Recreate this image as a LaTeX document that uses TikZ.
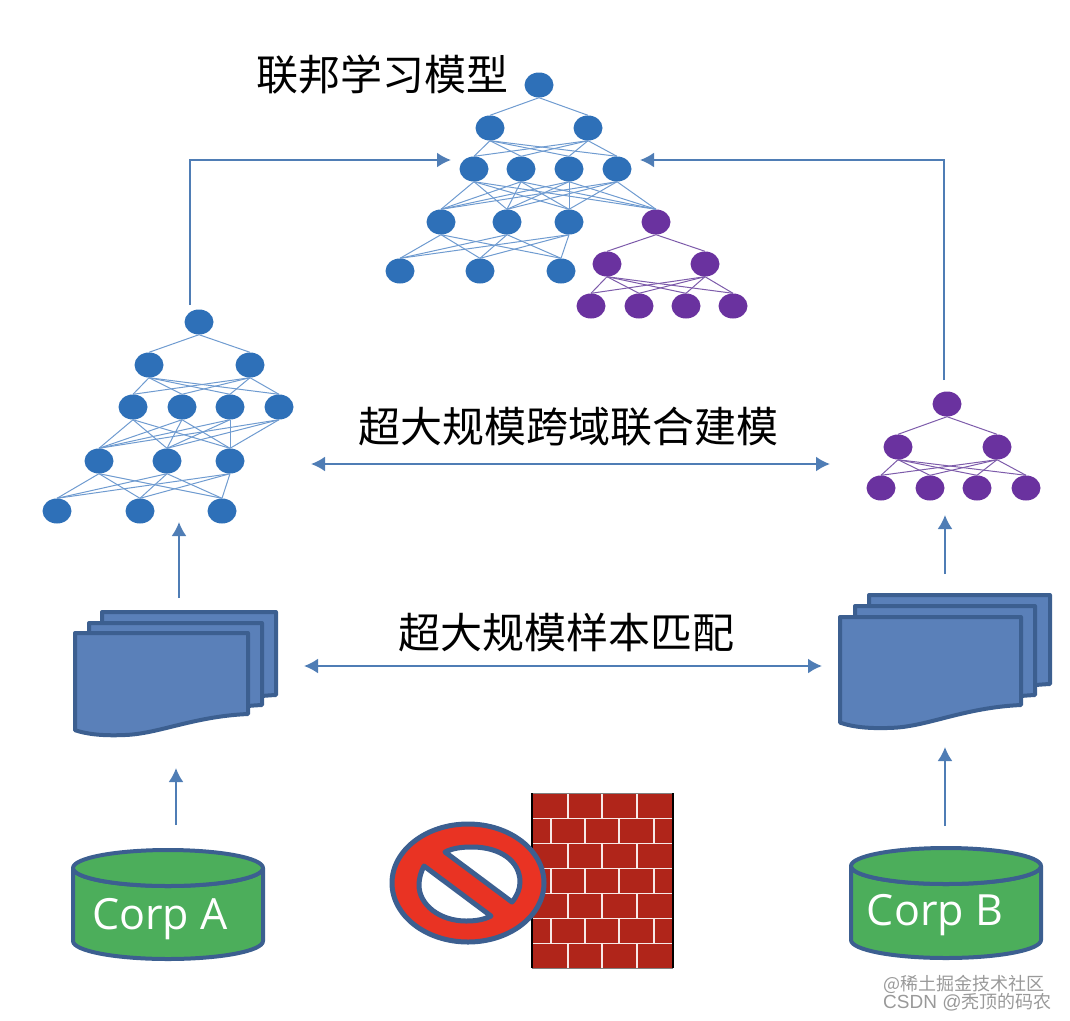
\documentclass[tikz,border=0pt]{standalone}
\usepackage{fontspec}
\setmainfont{Open Sans}
\newfontfamily\cjk{Noto Sans CJK SC}
\newfontfamily\wmfont{Liberation Sans}
\usetikzlibrary{shapes.geometric,arrows.meta}
\definecolor{netblue}{HTML}{2E70B8}
\definecolor{netpurple}{HTML}{6A329F}
\definecolor{edgeblue}{HTML}{6F9BD0}
\definecolor{edgepurple}{HTML}{7D5BAA}
\definecolor{arrowblue}{HTML}{4F7DB5}
\definecolor{sheetblue}{HTML}{5A80B9}
\definecolor{rimblue}{HTML}{3C5F90}
\definecolor{dbgreen}{HTML}{4CAE5B}
\definecolor{brickred}{HTML}{B0251A}
\definecolor{signred}{HTML}{E93323}
\tikzset{
  bluenet/.style={ellipse,fill=netblue,minimum width=29,minimum height=25,inner sep=0},
  purplenet/.style={ellipse,fill=netpurple,minimum width=29,minimum height=25,inner sep=0},
  blueedge/.style={edgeblue,line width=1},
  purpleedge/.style={edgepurple,line width=1},
  flow/.style={arrowblue,line width=2,-{Latex[length=14,width=15]}},
  flowboth/.style={arrowblue,line width=2,{Latex[length=14,width=15]}-{Latex[length=14,width=15]}},
  sheet/.style={draw=rimblue,fill=sheetblue,line width=4,line join=round},
  dbshape/.style={draw=rimblue,fill=dbgreen,line width=4,line join=round},
  title/.style={font=\cjk\fontsize{42}{42}\selectfont,inner sep=0},
  corp/.style={white,font=\fontsize{43}{43}\selectfont,inner sep=0},
  wmark/.style={gray!80,font=\cjk\fontsize{18}{18}\selectfont,inner sep=0,anchor=west}
}
\newcommand{\docsheet}[4]{
\draw [sheet] (#1,#2) -- (#1+#3,#2) -- (#1+#3,#2+#4)
  .. controls (#1+0.68*#3,#2+1.03*#4) and (#1+0.48*#3,#2+1.25*#4) .. (#1+0.28*#3,#2+1.26*#4)
  .. controls (#1+0.16*#3,#2+1.27*#4) and (#1+0.07*#3,#2+1.25*#4) .. (#1,#2+1.2*#4) -- cycle;
}
\newcommand{\corpdb}[5]{
\draw [dbshape] (#1-#3,#2) -- (#1-#3,#5) arc [start angle=180,end angle=0,x radius=#3,y radius=#4]
  -- (#1+#3,#2) arc [start angle=0,end angle=180,x radius=#3,y radius=#4] -- cycle;
\draw [dbshape] (#1,#2) ellipse [x radius=#3,y radius=#4];
}
\begin{document}
\begin{tikzpicture}[x=1pt,y=-1pt]
\useasboundingbox (0,0) rectangle (1070,1020);

% federated model
\foreach \name/\x/\y in {ta/539/85,tb/490/128,tc/588/128,td/474/169,te/521/169,tf/569/169,tg/617/169,
  th/441/222,ti/507/222,tj/569/222,tk/400/271,tl/480/271,tm/561/271}
  \node [bluenet] (\name) at (\x,\y) {};
\foreach \name/\x/\y in {pa/656/222,pb/607/264,pc/705/264,pd/591/306,pe/639/306,pf/686/306,pg/733/306}
  \node [purplenet] (\name) at (\x,\y) {};
\foreach \s in {tb,tc} \draw [blueedge] (ta.south) -- (\s.north);
\foreach \s in {tb,tc} \foreach \e in {td,te,tf,tg} \draw [blueedge] (\s.south) -- (\e.north);
\foreach \s in {td,te,tf,tg} \foreach \e in {th,ti,tj,pa} \draw [blueedge] (\s.south) -- (\e.north);
\foreach \s in {th,ti,tj} \foreach \e in {tk,tl,tm} \draw [blueedge] (\s.south) -- (\e.north);
\foreach \s in {pb,pc} \draw [purpleedge] (pa.south) -- (\s.north);
\foreach \s in {pb,pc} \foreach \e in {pd,pe,pf,pg} \draw [purpleedge] (\s.south) -- (\e.north);

% left model
\foreach \name/\x/\y in {la/199/322,lb/149/365,lc/250/365,ld/133/407,le/182/407,lf/230/407,lg/279/407,
  lh/99/461,li/167/461,lj/230/461,lk/57/511,ll/140/511,lm/222/511}
  \node [bluenet] (\name) at (\x,\y) {};
\foreach \s in {lb,lc} \draw [blueedge] (la.south) -- (\s.north);
\foreach \s in {lb,lc} \foreach \e in {ld,le,lf,lg} \draw [blueedge] (\s.south) -- (\e.north);
\foreach \s in {ld,le,lf,lg} \foreach \e in {lh,li,lj} \draw [blueedge] (\s.south) -- (\e.north);
\foreach \s in {lh,li,lj} \foreach \e in {lk,ll,lm} \draw [blueedge] (\s.south) -- (\e.north);

% right model
\foreach \name/\x/\y in {ra/947/404,rb/898/447,rc/997/447,rd/881/488,re/930/488,rf/977/488,rg/1026/488}
  \node [purplenet] (\name) at (\x,\y) {};
\foreach \s in {rb,rc} \draw [purpleedge] (ra.south) -- (\s.north);
\foreach \s in {rb,rc} \foreach \e in {rd,re,rf,rg} \draw [purpleedge] (\s.south) -- (\e.north);

% titles
\node [title] (fedtitle) at (382,75) {联邦学习模型};
\node [title] (modeltitle) at (568,427) {超大规模跨域联合建模};
\node [title] (sampletitle) at (566,632) {超大规模样本匹配};

% samples
\docsheet{102}{612}{174}{83}
\docsheet{89}{623}{173}{82}
\docsheet{75}{633}{173}{81}
\docsheet{869}{595}{181}{89}
\docsheet{855}{606}{180}{89}
\docsheet{840}{617}{181}{88}

% databases
\corpdb{168}{868}{95}{18}{941}
\corpdb{946}{866}{95}{18}{940}
\node [corp] (corpa) at (160,919) {Corp A};
\node [corp] (corpb) at (935,915) {Corp B};

% arrows
\coordinate (ua) at (190,305);
\coordinate (ub) at (451,160);
\coordinate (uc) at (944,380);
\coordinate (ud) at (640,160);
\coordinate (ue) at (311,464);
\coordinate (uf) at (830,464);
\coordinate (ug) at (304,666);
\coordinate (uh) at (822,666);
\coordinate (ui) at (179,598);
\coordinate (uj) at (179,522);
\coordinate (uk) at (945,574);
\coordinate (ul) at (945,515);
\coordinate (um) at (176,825);
\coordinate (un) at (176,768);
\coordinate (uo) at (945,826);
\coordinate (up) at (945,747);
\draw [flow] (ua) |- (ub);
\draw [flow] (uc) |- (ud);
\draw [flowboth] (ue) -- (uf);
\draw [flowboth] (ug) -- (uh);
\draw [flow] (ui) -- (uj);
\draw [flow] (uk) -- (ul);
\draw [flow] (um) -- (un);
\draw [flow] (uo) -- (up);

% wall
\fill [brickred] (532,793) rectangle (673,968);
\foreach \y in {818,843,868,893,918,943}
  \draw [white!90!brickred,line width=1] (532,\y) -- (673,\y);
\foreach \y in {793,843,893,943}
  \foreach \x in {568,602,637}
    \draw [white!90!brickred,line width=1.6] (\x,\y) -- (\x,\y+25);
\foreach \y in {818,868,918}
  \foreach \x in {551,585,619,654}
    \draw [white!90!brickred,line width=1.6] (\x,\y) -- (\x,\y+25);
\draw [gray,line width=1] (532,793) -- (673,793) (532,968) -- (673,968);
\draw [black,line width=2] (532,793) -- (532,968) (673,793) -- (673,968);

% forbidden sign
\draw [draw=rimblue,fill=signred,line width=5] (468,883) ellipse [x radius=76,y radius=59];
\draw [draw=rimblue,fill=white,line width=5,line join=round] (445,852)
  .. controls (453,848) and (462,847) .. (472,847) .. controls (500,847) and (520,861) .. (520,882)
  .. controls (520,889) and (517,896) .. (512,902) -- cycle;
\draw [draw=rimblue,fill=white,line width=5,line join=round] (424,866)
  .. controls (421,872) and (419,878) .. (419,885) .. controls (419,905) and (440,921) .. (466,921)
  .. controls (475,921) and (483,920) .. (491,916) -- cycle;

% watermark
\node [wmark] (wma) at (883,984) {@稀土掘金技术社区};
\node [wmark] (wmb) at (883,1002) {{\wmfont\fontsize{19}{19}\selectfont CSDN @}秃顶的码农};
\end{tikzpicture}
\end{document}
